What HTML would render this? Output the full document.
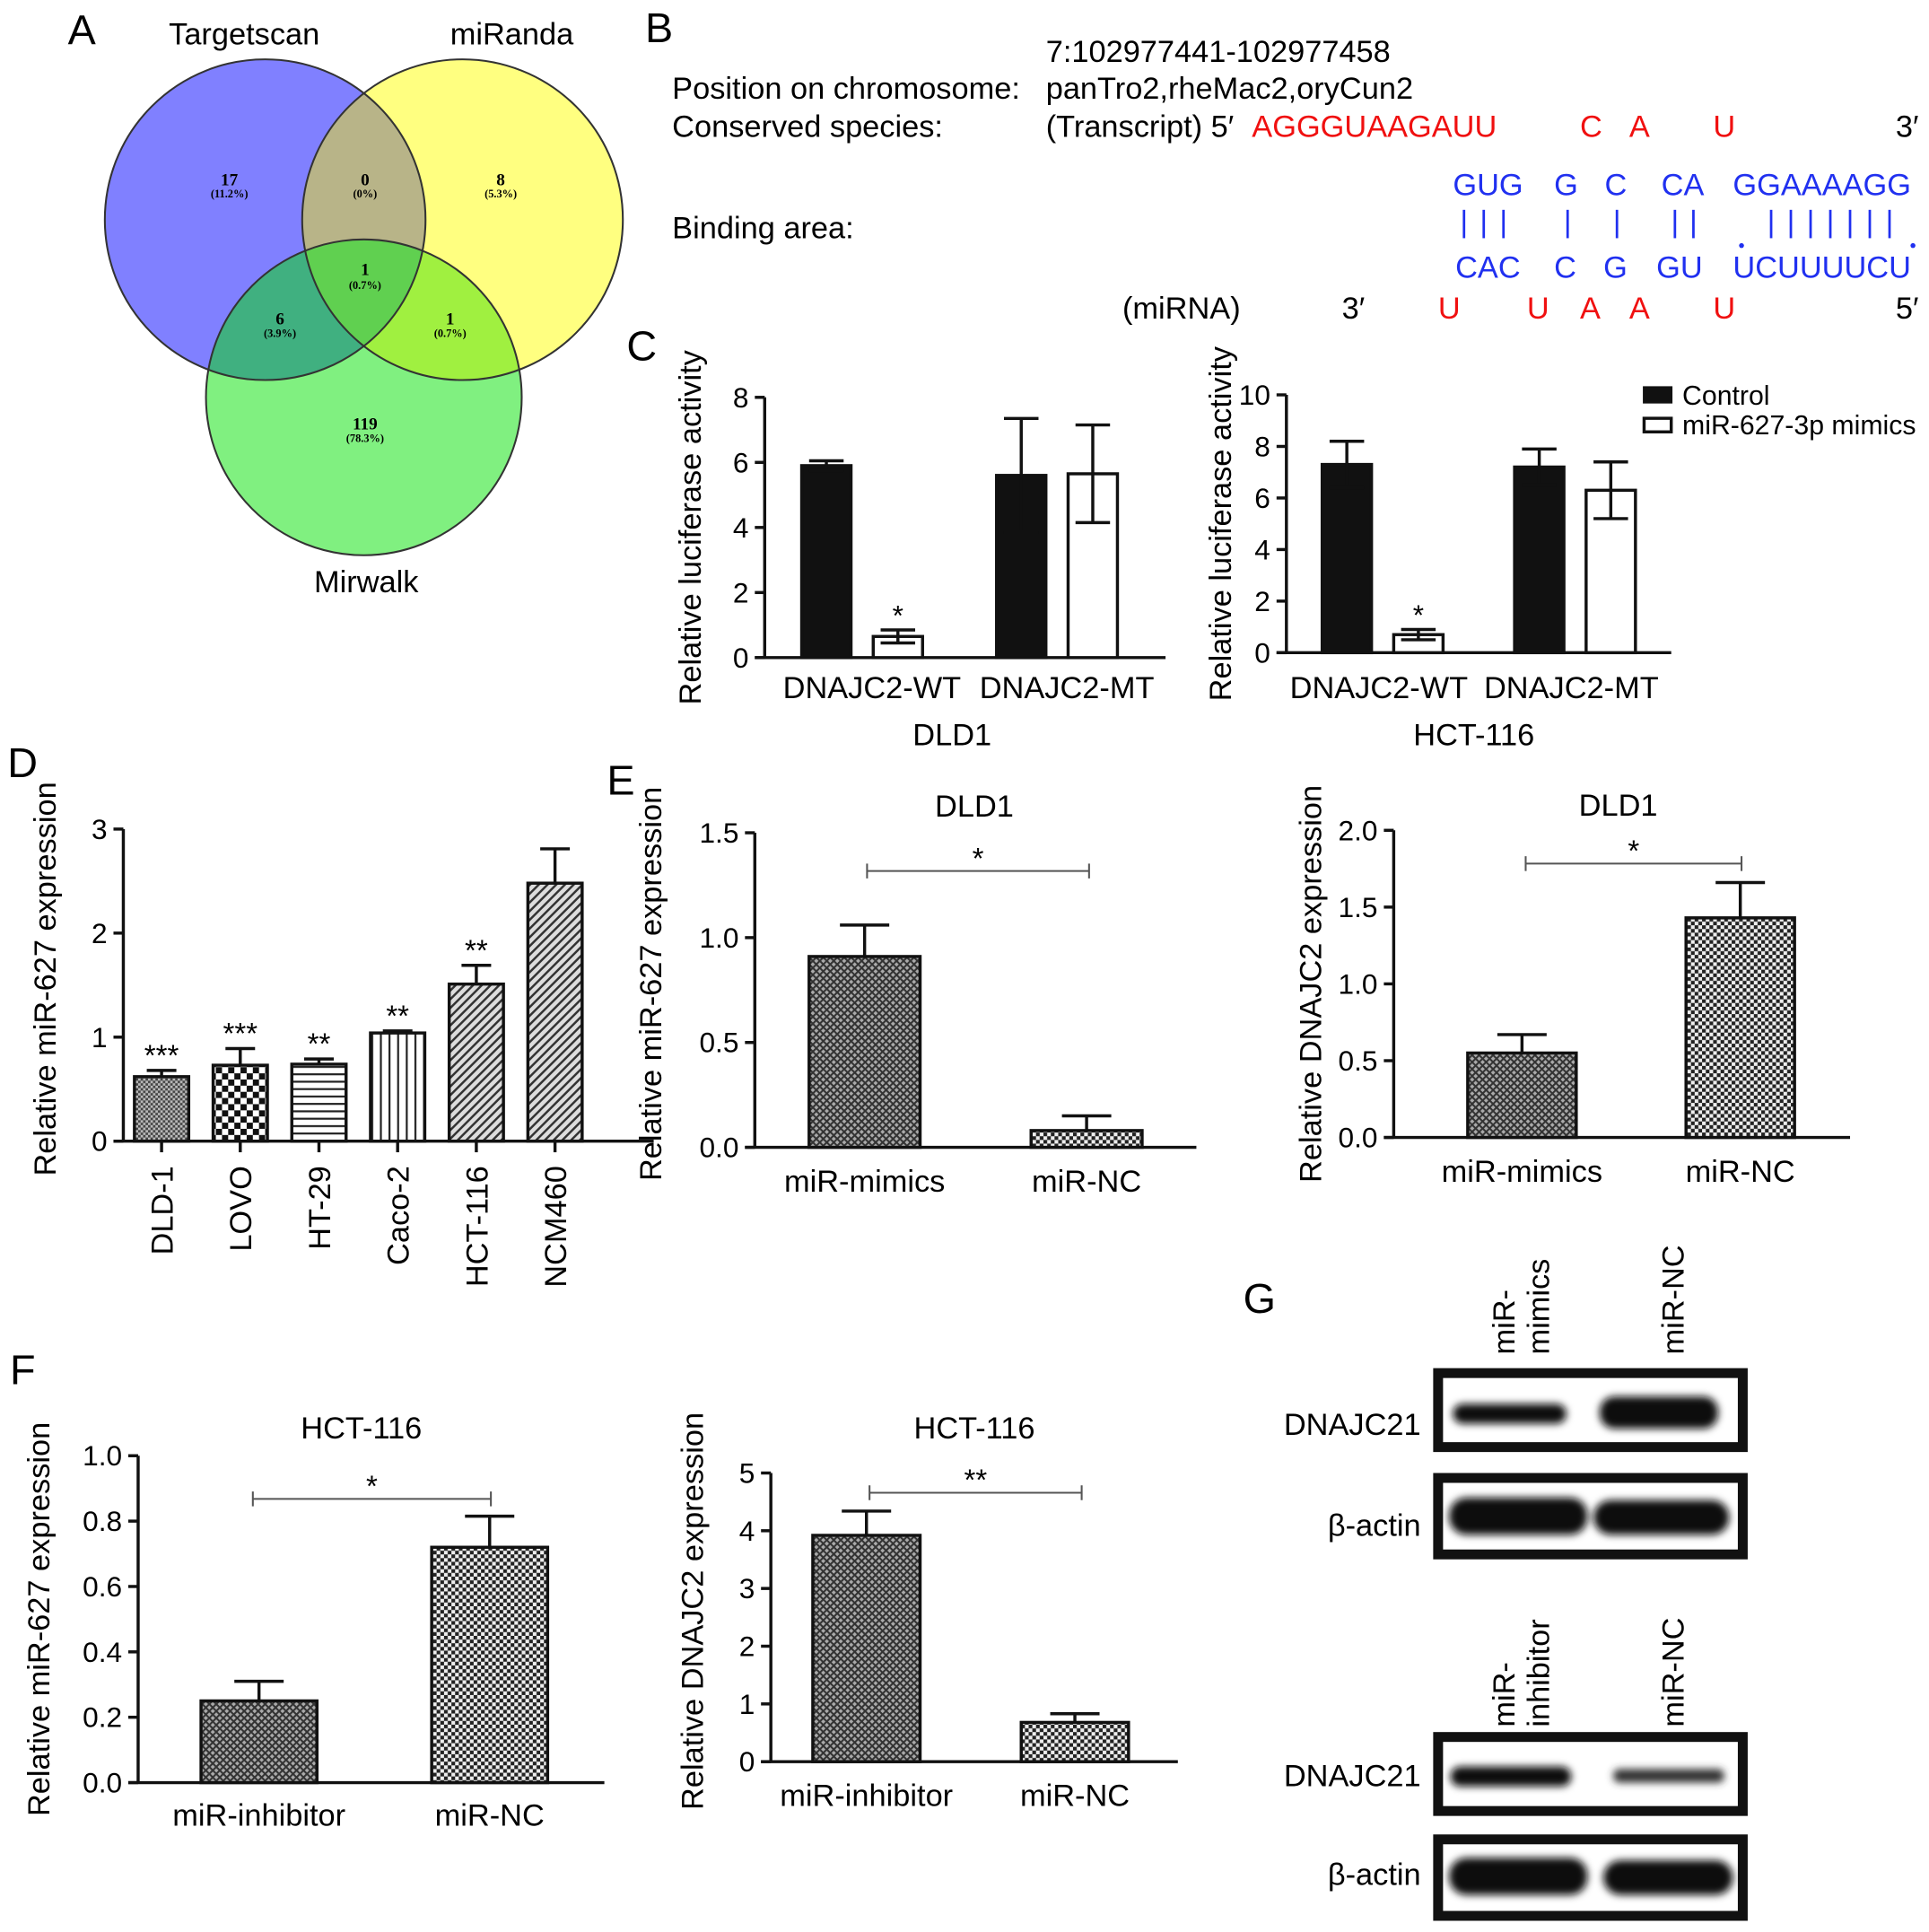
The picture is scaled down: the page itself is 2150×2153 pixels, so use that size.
<!DOCTYPE html>
<html><head><meta charset="utf-8"><style>
html,body{margin:0;padding:0;background:#fff;}
svg{display:block;font-family:"Liberation Sans",Arial,sans-serif;}
</style></head><body>
<svg id="fig" xmlns="http://www.w3.org/2000/svg" width="2150" height="2153" viewBox="0 0 1564 1566">
<defs>
 <pattern id="pFine" width="4" height="4" patternUnits="userSpaceOnUse"><rect width="4" height="4" fill="#bbb"/><rect width="2" height="2" fill="#444"/><rect x="2" y="2" width="2" height="2" fill="#444"/></pattern>
 <pattern id="pCheck" width="10" height="10" patternUnits="userSpaceOnUse"><rect width="10" height="10" fill="#fff"/><rect width="5" height="5" fill="#111"/><rect x="5" y="5" width="5" height="5" fill="#111"/></pattern>
 <pattern id="pCheck2" width="6" height="6" patternUnits="userSpaceOnUse"><rect width="6" height="6" fill="#eee"/><rect width="3" height="3" fill="#222"/><rect x="3" y="3" width="3" height="3" fill="#222"/></pattern>
 <pattern id="pHor" width="6" height="6" patternUnits="userSpaceOnUse"><rect width="6" height="6" fill="#fff"/><rect y="0" width="6" height="1.6" fill="#222"/></pattern>
 <pattern id="pVer" width="7" height="7" patternUnits="userSpaceOnUse"><rect width="7" height="7" fill="#fff"/><rect x="0" width="1.6" height="7" fill="#222"/></pattern>
 <pattern id="pDiag" width="5" height="5" patternUnits="userSpaceOnUse" patternTransform="rotate(45)"><rect width="5" height="5" fill="#ddd"/><rect width="1.8" height="5" fill="#333"/></pattern>
 <pattern id="pDiagX" width="4" height="4" patternUnits="userSpaceOnUse" patternTransform="rotate(45)"><rect width="4" height="4" fill="#aaa"/><rect width="1.5" height="4" fill="#333"/><rect width="4" height="1.5" fill="#333"/></pattern>
 <clipPath id="cB"><circle cx="215" cy="178" r="130"/></clipPath>
 <clipPath id="cY"><circle cx="375" cy="178" r="130"/></clipPath>
 <clipPath id="cG"><circle cx="295" cy="322" r="128"/></clipPath>
 <filter id="blur" x="-20%" y="-50%" width="140%" height="200%"><feGaussianBlur stdDeviation="3"/></filter>
</defs>

<!-- Panel A -->
<g>
 <text x="55" y="36" font-size="34">A</text>
 <circle cx="215" cy="178" r="130" fill="#8080ff"/>
 <circle cx="375" cy="178" r="130" fill="#ffff80"/>
 <circle cx="295" cy="322" r="128" fill="#80f080"/>
 <g clip-path="url(#cB)"><circle cx="375" cy="178" r="130" fill="#b8b488"/><circle cx="295" cy="322" r="128" fill="#40b080"/></g>
 <g clip-path="url(#cY)"><circle cx="295" cy="322" r="128" fill="#a0f040"/></g>
 <g clip-path="url(#cB)"><g clip-path="url(#cY)"><circle cx="295" cy="322" r="128" fill="#60d050"/></g></g>
 <circle cx="215" cy="178" r="130" fill="none" stroke="#333" stroke-width="1.5"/>
 <circle cx="375" cy="178" r="130" fill="none" stroke="#333" stroke-width="1.5"/>
 <circle cx="295" cy="322" r="128" fill="none" stroke="#333" stroke-width="1.5"/>
 <text x="198" y="36" font-size="25" text-anchor="middle">Targetscan</text>
 <text x="415" y="36" font-size="25" text-anchor="middle">miRanda</text>
 <text x="297" y="480" font-size="25" text-anchor="middle">Mirwalk</text>
 <g font-family="Liberation Serif,serif" font-weight="bold" text-anchor="middle">
  <text x="186" y="150" font-size="14">17</text><text x="186" y="160" font-size="9">(11.2%)</text>
  <text x="296" y="150" font-size="14">0</text><text x="296" y="160" font-size="9">(0%)</text>
  <text x="406" y="150" font-size="14">8</text><text x="406" y="160" font-size="9">(5.3%)</text>
  <text x="296" y="223" font-size="14">1</text><text x="296" y="234" font-size="9">(0.7%)</text>
  <text x="227" y="263" font-size="14">6</text><text x="227" y="273" font-size="9">(3.9%)</text>
  <text x="365" y="263" font-size="14">1</text><text x="365" y="273" font-size="9">(0.7%)</text>
  <text x="296" y="348" font-size="14">119</text><text x="296" y="358" font-size="9">(78.3%)</text>
 </g>
</g>

<!-- Panel B -->
<g font-size="25">
 <text x="523" y="34" font-size="34">B</text>
 <text x="848" y="50">7:102977441-102977458</text>
 <text x="545" y="80">Position on chromosome:</text>
 <text x="848" y="80">panTro2,rheMac2,oryCun2</text>
 <text x="545" y="111">Conserved species:</text>
 <text x="848" y="111">(Transcript) 5′</text>
 <g fill="#f01010">
  <text x="1015" y="111">AGGGUAAGAUU</text><text x="1281" y="111">C</text><text x="1321" y="111">A</text><text x="1389" y="111">U</text>
 </g>
 <text x="1537" y="111">3′</text>
 <g fill="#2030f0">
  <text x="1178" y="158">GUG</text><text x="1260" y="158">G</text><text x="1301" y="158">C</text><text x="1347" y="158">CA</text><text x="1405" y="158">GGAAAAGG</text>
  <text x="1180" y="225">CAC</text><text x="1260" y="225">C</text><text x="1300" y="225">G</text><text x="1343" y="225">GU</text><text x="1405" y="225">UCUUUUCU</text>
  <g stroke="#2030f0" stroke-width="2">
   <line x1="1187" y1="170" x2="1187" y2="193"/><line x1="1203" y1="170" x2="1203" y2="193"/><line x1="1219" y1="170" x2="1219" y2="193"/>
   <line x1="1271" y1="170" x2="1271" y2="193"/><line x1="1311" y1="170" x2="1311" y2="193"/>
   <line x1="1358" y1="170" x2="1358" y2="193"/><line x1="1373" y1="170" x2="1373" y2="193"/>
   <line x1="1436" y1="170" x2="1436" y2="193"/><line x1="1452" y1="170" x2="1452" y2="193"/><line x1="1468" y1="170" x2="1468" y2="193"/><line x1="1484" y1="170" x2="1484" y2="193"/><line x1="1500" y1="170" x2="1500" y2="193"/><line x1="1516" y1="170" x2="1516" y2="193"/><line x1="1532" y1="170" x2="1532" y2="193"/>
  </g>
  <circle cx="1412" cy="199" r="2"/><circle cx="1551" cy="199" r="2"/>
 </g>
 <text x="545" y="193">Binding area:</text>
 <text x="910" y="258">(miRNA)</text>
 <text x="1088" y="258">3′</text>
 <g fill="#f01010">
  <text x="1166" y="258">U</text><text x="1238" y="258">U</text><text x="1281" y="258">A</text><text x="1321" y="258">A</text><text x="1389" y="258">U</text>
 </g>
 <text x="1537" y="258">5′</text>
</g>

<g id="charts"></g>

<!-- Panel G -->
<g>
 <text x="1008" y="1064" font-size="34">G</text>
 <g font-size="25">
  <text transform="translate(1228,1098) rotate(-90)">miR-</text>
  <text transform="translate(1256,1098) rotate(-90)">mimics</text>
  <text transform="translate(1365,1098) rotate(-90)">miR-NC</text>
  <text transform="translate(1228,1400) rotate(-90)">miR-</text>
  <text transform="translate(1256,1400) rotate(-90)">inhibitor</text>
  <text transform="translate(1365,1400) rotate(-90)">miR-NC</text>
 </g>
 <g font-size="25" text-anchor="end">
  <text x="1152" y="1163">DNAJC21</text>
  <text x="1152" y="1245">β-actin</text>
  <text x="1152" y="1448">DNAJC21</text>
  <text x="1152" y="1528">β-actin</text>
 </g>
 <g filter="url(#blur)" fill="#111">
  <rect x="1178" y="1138" width="92" height="16" rx="8"/>
  <rect x="1297" y="1132" width="96" height="26" rx="12"/>
  <rect x="1175" y="1214" width="112" height="30" rx="14"/>
  <rect x="1292" y="1216" width="110" height="28" rx="14"/>
  <rect x="1176" y="1432" width="98" height="16" rx="8"/>
  <rect x="1308" y="1434" width="90" height="11" rx="5" fill="#333"/>
  <rect x="1175" y="1506" width="112" height="30" rx="14"/>
  <rect x="1300" y="1508" width="105" height="28" rx="14"/>
 </g>
 <g fill="none" stroke="#111" stroke-width="8">
  <rect x="1166" y="1113" width="247" height="60"/>
  <rect x="1166" y="1198" width="247" height="62"/>
  <rect x="1166" y="1408" width="247" height="60"/>
  <rect x="1166" y="1491" width="247" height="62"/>
 </g>
</g>

<script>
// ---- data ----
const cLeftCats = ['DNAJC2-WT','DNAJC2-MT'];
const cLeftControl = [5.9, 5.6];
const cLeftControlErr = [0.15, 1.75];
const cLeftMimics = [0.65, 5.65];
const cLeftMimicsErr = [0.2, 1.5];
const cLeftTicks = [0,2,4,6,8];
const cRightCats = ['DNAJC2-WT','DNAJC2-MT'];
const cRightControl = [7.3, 7.2];
const cRightControlErr = [0.9, 0.7];
const cRightMimics = [0.7, 6.3];
const cRightMimicsErr = [0.2, 1.1];
const cRightTicks = [0,2,4,6,8,10];
const dCats = ['DLD-1','LOVO','HT-29','Caco-2','HCT-116','NCM460'];
const dVals = [0.62, 0.73, 0.74, 1.04, 1.51, 2.48];
const dErrs = [0.06, 0.16, 0.05, 0.02, 0.18, 0.33];
const dStars = ['***','***','**','**','**',''];
const dTicks = [0,1,2,3];
const eLCats = ['miR-mimics','miR-NC'];
const eLVals = [0.91, 0.08];
const eLErrs = [0.15, 0.07];
const eLTicks = [0,0.5,1.0,1.5];
const eLTickLabels = ['0.0','0.5','1.0','1.5'];
const eRCats = ['miR-mimics','miR-NC'];
const eRVals = [0.55, 1.43];
const eRErrs = [0.12, 0.23];
const eRTicks = [0,0.5,1.0,1.5,2.0];
const eRTickLabels = ['0.0','0.5','1.0','1.5','2.0'];
const fLCats = ['miR-inhibitor','miR-NC'];
const fLVals = [0.25, 0.72];
const fLErrs = [0.06, 0.095];
const fLTicks = [0,0.2,0.4,0.6,0.8,1.0];
const fLTickLabels = ['0.0','0.2','0.4','0.6','0.8','1.0'];
const fRCats = ['miR-inhibitor','miR-NC'];
const fRVals = [3.92, 0.68];
const fRErrs = [0.42, 0.15];
const fRTicks = [0,1,2,3,4,5];

const NS='http://www.w3.org/2000/svg';
const root=document.getElementById('charts');
function mk(tag,attrs,parent){const e=document.createElementNS(NS,tag);for(const k in attrs)e.setAttribute(k,attrs[k]);(parent||root).appendChild(e);return e;}
function txt(s,attrs,parent){const e=mk('text',attrs,parent);e.textContent=s;return e;}

function axes(g,c,ticks,labels){
  const y=v=>c.yb-(v/c.ymax)*(c.yb-c.yt);
  const ya=mk('line',{x1:c.ax,y1:c.yt,x2:c.ax,y2:c.yb,stroke:'#111','stroke-width':2.5},g);
  
  
  const xa=mk('line',{x1:c.ax-8,y1:c.yb,x2:c.axEnd,y2:c.yb,stroke:'#111','stroke-width':2.5},g);
  
  
  ticks.forEach((t,i)=>{
    mk('line',{x1:c.ax-8,y1:y(t),x2:c.ax,y2:y(t),stroke:'#111','stroke-width':2.5},g);
    const tl=txt(labels?labels[i]:String(t),{x:c.ax-13,y:y(t)+8,'font-size':23,'text-anchor':'end'},g);
    
    
  });
  const yl=txt(c.ylabel,{transform:`translate(${c.ylx},${(c.yt+c.yb)/2+c.yoff}) rotate(-90)`,'font-size':25,'text-anchor':'middle'},g);
  
  
  return y;
}
function bar(g,y,left,w,v,e,fill,both,cap){
  const yb=y(0);
  const r=mk('rect',{x:left,y:y(v),width:w,height:yb-y(v),fill:fill,stroke:'#111','stroke-width':2.5},g);
  
  
  const cx=left+w/2;
  const lo=both?y(v-e):y(v);
  mk('line',{x1:cx,y1:lo,x2:cx,y2:y(v+e),stroke:'#111','stroke-width':2.5},g);
  mk('line',{x1:cx-cap,y1:y(v+e),x2:cx+cap,y2:y(v+e),stroke:'#111','stroke-width':2.5},g);
  if(both) mk('line',{x1:cx-cap,y1:lo,x2:cx+cap,y2:lo,stroke:'#111','stroke-width':2.5},g);
  return cx;
}

// ---- Panel C ----
(function(){
  const g=mk('g',{});
  
  
  txt('C',{x:508,y:292,'font-size':34},g);
  const c={ax:620,axEnd:945,yt:322,yb:533,ymax:8,ylabel:'Relative luciferase activity',ylx:568,yoff:0};
  const y=axes(g,c,cLeftTicks);
  cLeftCats.forEach((cat,i)=>{
    const l=650+i*158;
    bar(g,y,l,40,cLeftControl[i],cLeftControlErr[i],'#111',true,14);
    bar(g,y,l+58,40,cLeftMimics[i],cLeftMimicsErr[i],'#fff',true,14);
    const t=txt(cat,{x:l+57,y:566,'font-size':25,'text-anchor':'middle'},g);
    
    
    if(i===0) txt('*',{x:l+78,y:y(cLeftMimics[i]+cLeftMimicsErr[i])-4,'font-size':23,'text-anchor':'middle'},g);
  });
  txt('DLD1',{x:772,y:604,'font-size':25,'text-anchor':'middle'},g);
})();
(function(){
  const g=mk('g',{});
  
  
  const c={ax:1043,axEnd:1355,yt:320,yb:529,ymax:10,ylabel:'Relative luciferase activity',ylx:998,yoff:0};
  const y=axes(g,c,cRightTicks);
  cRightCats.forEach((cat,i)=>{
    const l=1072+i*156;
    bar(g,y,l,40,cRightControl[i],cRightControlErr[i],'#111',true,14);
    bar(g,y,l+58,40,cRightMimics[i],cRightMimicsErr[i],'#fff',true,14);
    const t=txt(cat,{x:l+46,y:566,'font-size':25,'text-anchor':'middle'},g);
    
    
    if(i===0) txt('*',{x:l+78,y:y(cRightMimics[i]+cRightMimicsErr[i])-4,'font-size':23,'text-anchor':'middle'},g);
  });
  txt('HCT-116',{x:1195,y:604,'font-size':25,'text-anchor':'middle'},g);
  const lg=mk('g',{},g);
  
  
  mk('rect',{x:1333,y:314,width:22,height:12,fill:'#111',stroke:'#111','stroke-width':2},lg);
  txt('Control',{x:1364,y:328,'font-size':22},lg);
  mk('rect',{x:1333,y:339,width:22,height:11,fill:'#fff',stroke:'#111','stroke-width':2.5},lg);
  txt('miR-627-3p mimics',{x:1364,y:352,'font-size':22},lg);
})();

// ---- Panel D ----
(function(){
  const g=mk('g',{});
  
  
  txt('D',{x:6,y:630,'font-size':34},g);
  const c={ax:100,axEnd:530,yt:672,yb:925,ymax:3,ylabel:'Relative miR-627 expression',ylx:45,yoff:-5};
  const y=axes(g,c,dTicks);
  const fills=['url(#pFine)','url(#pCheck)','url(#pHor)','url(#pVer)','url(#pDiag)','url(#pDiag)'];
  dCats.forEach((cat,i)=>{
    const l=109+i*63.8;
    const cx=bar(g,y,l,44,dVals[i],dErrs[i],fills[i],false,12);
    mk('line',{x1:cx,y1:925,x2:cx,y2:934,stroke:'#111','stroke-width':2.5},g);
    if(dStars[i]){const s=txt(dStars[i],{x:cx,y:y(dVals[i]+dErrs[i])-4,'font-size':24,'text-anchor':'middle'},g);
      
      }
    const t=txt(cat,{transform:`translate(${cx+9},945) rotate(-90)`,'font-size':25,'text-anchor':'end'},g);
    
    
  });
})();

function twoBar(name,c,cats,vals,errs,ticks,labels,title,sig,fills,lefts,bw,labelY){
  const g=mk('g',{});
  
  
  const y=axes(g,c,ticks,labels);
  const tt=txt(title,{x:c.tx,y:c.ty,'font-size':25,'text-anchor':'middle'},g);
  
  
  cats.forEach((cat,i)=>{
    const cx=bar(g,y,lefts[i],bw,vals[i],errs[i],fills[i],false,20);
    const t=txt(cat,{x:cx,y:labelY,'font-size':25,'text-anchor':'middle'},g);
    
    
  });
  const br=mk('g',{},g);
  
  
  mk('line',{x1:sig.x1,y1:sig.y,x2:sig.x2,y2:sig.y,stroke:'#555','stroke-width':1.5},br);
  mk('line',{x1:sig.x1,y1:sig.y-6,x2:sig.x1,y2:sig.y+6,stroke:'#555','stroke-width':1.5},br);
  mk('line',{x1:sig.x2,y1:sig.y-6,x2:sig.x2,y2:sig.y+6,stroke:'#555','stroke-width':1.5},br);
  txt(sig.t,{x:(sig.x1+sig.x2)/2,y:sig.y-2,'font-size':24,'text-anchor':'middle'},br);
}
txt('E',{x:492,y:644,'font-size':34});
twoBar('mir627-dld1-chart',{ax:612,axEnd:970,yt:675,yb:930,ymax:1.5,ylabel:'Relative miR-627 expression',ylx:536,yoff:-5,tx:790,ty:662},
  eLCats,eLVals,eLErrs,eLTicks,eLTickLabels,'DLD1',{x1:703,x2:883,y:706,t:'*'},['url(#pDiagX)','url(#pCheck2)'],[656,836],90,966);
twoBar('dnajc2-dld1-chart',{ax:1130,axEnd:1500,yt:673,yb:922,ymax:2.0,ylabel:'Relative DNAJC2 expression',ylx:1071,yoff:0,tx:1312,ty:661},
  eRCats,eRVals,eRErrs,eRTicks,eRTickLabels,'DLD1',{x1:1237,x2:1412,y:700,t:'*'},['url(#pDiagX)','url(#pCheck2)'],[1190,1367],88,958);
txt('F',{x:8,y:1122,'font-size':34});
twoBar('mir627-hct116-chart',{ax:112,axEnd:490,yt:1180,yb:1445,ymax:1.0,ylabel:'Relative miR-627 expression',ylx:40,yoff:0,tx:293,ty:1166},
  fLCats,fLVals,fLErrs,fLTicks,fLTickLabels,'HCT-116',{x1:205,x2:398,y:1215,t:'*'},['url(#pDiagX)','url(#pCheck2)'],[163,350],94,1480);
twoBar('dnajc2-hct116-chart',{ax:625,axEnd:955,yt:1194,yb:1428,ymax:5,ylabel:'Relative DNAJC2 expression',ylx:570,yoff:-5,tx:790,ty:1166},
  fRCats,fRVals,fRErrs,fRTicks,null,'HCT-116',{x1:705,x2:877,y:1210,t:'**'},['url(#pDiagX)','url(#pCheck2)'],[659,828],87,1464);
</script>
</svg>
</body></html>
